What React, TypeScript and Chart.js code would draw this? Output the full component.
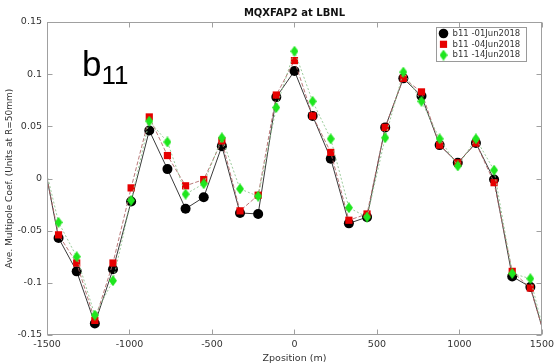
import React, { useEffect, useRef } from "react";
import { Chart, registerables } from "chart.js";

Chart.register(...registerables);

// ---- data ----
const zPositions = [
  -1500, -1430, -1320, -1210, -1100, -990, -880, -770, -660, -550, -440, -330, -220, -110,
  0, 110, 220, 330, 440, 550, 660, 770, 880, 990, 1100, 1210, 1320, 1430, 1500,
];
const b11Jun01 = [
  0.0, -0.057, -0.089, -0.139, -0.087, -0.022, 0.046, 0.009, -0.029, -0.018, 0.031, -0.033, -0.034, 0.078,
  0.103, 0.06, 0.019, -0.043, -0.037, 0.049, 0.096, 0.079, 0.032, 0.015, 0.034, -0.001, -0.094, -0.104, -0.142,
];
const b11Jun04 = [
  0.0, -0.054, -0.081, -0.136, -0.081, -0.009, 0.059, 0.022, -0.007, -0.001, 0.036, -0.031, -0.016, 0.08,
  0.113, 0.06, 0.025, -0.04, -0.034, 0.049, 0.096, 0.083, 0.032, 0.015, 0.034, -0.004, -0.089, -0.105, -0.142,
];
const b11Jun14 = [
  0.004, -0.042, -0.075, -0.131, -0.098, -0.021, 0.055, 0.035, -0.015, -0.005, 0.039, -0.01, -0.017, 0.068,
  0.122, 0.074, 0.038, -0.028, -0.037, 0.039, 0.102, 0.074, 0.038, 0.012, 0.038, 0.008, -0.091, -0.096, -0.14,
];
const seriesLabels = ["b11 -01Jun2018", "b11 -04Jun2018", "b11 -14Jun2018"];
const xTicks = [-1500, -1000, -500, 0, 500, 1000, 1500];
const yTicks = [-0.15, -0.1, -0.05, 0, 0.05, 0.1, 0.15];
const chartTitle = "MQXFAP2 at LBNL";
const xTitle = "Zposition (m)";
const yTitle = "Ave. Multipole Coef. (Units at R=50mm)";
const bigLabel = "b";
const bigLabelSub = "11";

const FONT = '"DejaVu Sans", sans-serif';
const RED = "#e60000";
const GREEN = "#1ee61e";
const BLACK = "#000000";

function makeDiamond(w: number, h: number, color: string) {
  const c = document.createElement("canvas");
  c.width = w;
  c.height = h;
  const g = c.getContext("2d")!;
  g.fillStyle = color;
  g.beginPath();
  g.moveTo(w / 2, 0);
  g.lineTo(w, h / 2);
  g.lineTo(w / 2, h);
  g.lineTo(0, h / 2);
  g.closePath();
  g.fill();
  return c;
}

export default function App() {
  const ref = useRef<HTMLCanvasElement | null>(null);

  useEffect(() => {
    if (!ref.current) return;
    const diamond = makeDiamond(8, 11, GREEN);
    const last = zPositions.length - 1;
    const rad = (r: number) => (ctx: any) =>
      ctx.dataIndex === 0 || ctx.dataIndex === last ? 0 : r;
    const toPts = (arr: number[]) => zPositions.map((x, i) => ({ x, y: arr[i] }));

    const decor = {
      id: "decor",
      afterDatasetsDraw(chart: any) {
        const { ctx, chartArea: a, scales } = chart;
        const xs = scales.x;
        const ys = scales.y;
        ctx.save();
        // box + inward ticks
        const L = Math.round(a.left) + 0.5;
        const R = Math.round(a.right) - 0.5;
        const T = Math.round(a.top) + 0.5;
        const B = Math.round(a.bottom) - 0.5;
        ctx.strokeStyle = "#a0a0a0";
        ctx.lineWidth = 1;
        ctx.strokeRect(L, T, R - L, B - T);
        ctx.beginPath();
        const tl = 5;
        for (const v of xTicks) {
          const px = Math.round(xs.getPixelForValue(v)) + 0.5;
          ctx.moveTo(px, B);
          ctx.lineTo(px, B - tl);
          ctx.moveTo(px, T);
          ctx.lineTo(px, T + tl);
        }
        for (const v of yTicks) {
          const py = Math.round(ys.getPixelForValue(v)) + 0.5;
          ctx.moveTo(L, py);
          ctx.lineTo(L + tl, py);
          ctx.moveTo(R, py);
          ctx.lineTo(R - tl, py);
        }
        ctx.stroke();

        // title
        ctx.fillStyle = "#111";
        ctx.font = "bold 10px " + FONT;
        ctx.textAlign = "center";
        ctx.textBaseline = "middle";
        ctx.fillText(chartTitle, (a.left + a.right) / 2, 13);

        // b11 label
        ctx.fillStyle = "#000";
        ctx.textAlign = "left";
        ctx.textBaseline = "alphabetic";
        ctx.font = '35px "Liberation Sans", Arial, sans-serif';
        ctx.fillText(bigLabel, a.left + 35, a.top + 54);
        const bw = ctx.measureText(bigLabel).width;
        ctx.font = '26px "Liberation Sans", Arial, sans-serif';
        ctx.fillText(bigLabelSub, a.left + 35 + bw, a.top + 62);

        // legend
        const lx = Math.round(a.right) - 105.5;
        const ly = Math.round(a.top) + 5.5;
        const lw = 90;
        const lh = 34;
        ctx.fillStyle = "#fff";
        ctx.fillRect(lx, ly, lw, lh);
        ctx.strokeStyle = "#9a9a9a";
        ctx.strokeRect(lx, ly, lw, lh);
        ctx.font = "8.5px " + FONT;
        ctx.textBaseline = "middle";
        ctx.textAlign = "left";
        const rows = [ly + 6, ly + 16.8, ly + 27.6];
        const mx = lx + 7;
        ctx.fillStyle = BLACK;
        ctx.beginPath();
        ctx.arc(mx, rows[0], 4.8, 0, Math.PI * 2);
        ctx.fill();
        ctx.fillStyle = RED;
        ctx.fillRect(mx - 3.6, rows[1] - 3.6, 7.2, 7.2);
        ctx.drawImage(diamond, mx - 4, rows[2] - 5.5);
        ctx.fillStyle = "#333";
        seriesLabels.forEach((t, i) => ctx.fillText(t, lx + 16, rows[i]));
        ctx.restore();
      },
    };

    const chart = new Chart(ref.current, {
      type: "line",
      data: {
        datasets: [
          {
            label: seriesLabels[0],
            data: toPts(b11Jun01),
            borderColor: "#3a3a3a",
            borderWidth: 1,
            pointStyle: "circle",
            pointRadius: rad(5),
            pointBackgroundColor: BLACK,
            pointBorderWidth: 0,
            order: 2,
          },
          {
            label: seriesLabels[1],
            data: toPts(b11Jun04),
            borderColor: "#b06a6a",
            borderWidth: 0.9,
            borderDash: [4, 2],
            pointStyle: "rect",
            pointRadius: rad(5.1),
            pointBackgroundColor: RED,
            pointBorderWidth: 0,
            order: 1,
          },
          {
            label: seriesLabels[2],
            data: toPts(b11Jun14),
            borderColor: "#8fc58f",
            borderWidth: 0.9,
            borderDash: [2, 2],
            pointStyle: diamond as any,
            pointRadius: rad(5),
            pointBackgroundColor: GREEN,
            pointBorderWidth: 0,
            order: 0,
          },
        ] as any,
      },
      options: {
        animation: false,
        responsive: true,
        maintainAspectRatio: false,
        events: [],
        layout: { padding: { top: 22, right: 15, left: 0, bottom: 0 } },
        plugins: {
          legend: { display: false },
          title: { display: false },
          tooltip: { enabled: false },
        },
        scales: {
          x: {
            type: "linear",
            min: -1500,
            max: 1500,
            afterBuildTicks: (s: any) => {
              s.ticks = xTicks.map((v) => ({ value: v }));
            },
            afterFit: (s: any) => {
              s.height = 29;
            },
            grid: { display: false, drawTicks: false },
            border: { display: false },
            ticks: {
              padding: 4,
              color: "#333",
              font: { family: FONT, size: 9.5 },
              maxRotation: 0,
              callback: (v: any) => String(v),
            },
            title: {
              display: true,
              text: xTitle,
              color: "#333",
              font: { family: FONT, size: 9.5 },
              padding: { top: 0, bottom: 0 },
            },
          },
          y: {
            type: "linear",
            min: -0.15,
            max: 0.15,
            afterBuildTicks: (s: any) => {
              s.ticks = yTicks.map((v) => ({ value: v }));
            },
            afterFit: (s: any) => {
              s.width = 47;
            },
            grid: { display: false, drawTicks: false },
            border: { display: false },
            ticks: {
              padding: 5,
              color: "#333",
              font: { family: FONT, size: 9.5 },
              callback: (v: any) => String(Math.round(Number(v) * 100) / 100),
            },
            title: {
              display: true,
              text: yTitle,
              color: "#333",
              font: { family: FONT, size: 9 },
              padding: { top: 4, bottom: 0 },
            },
          },
        },
      } as any,
      plugins: [decor],
    });
    return () => chart.destroy();
  }, []);

  return (
    <div style={{ position: "absolute", left: 0, top: 0, width: 558, height: 364, background: "#fff" }}>
      <canvas ref={ref} />
    </div>
  );
}
